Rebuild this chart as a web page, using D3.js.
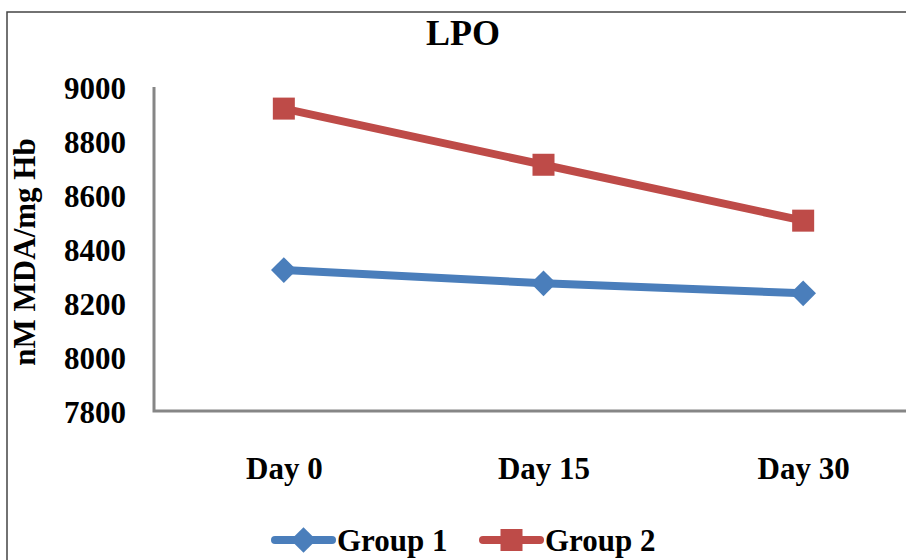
<!DOCTYPE html>
<html>
<head>
<meta charset="utf-8">
<script src="https://cdn.jsdelivr.net/npm/d3@7"></script>
<style>
  html, body { margin: 0; padding: 0; background: #fff; }
  svg { display: block; }
  text { font-family: "Liberation Serif", "Times New Roman", serif; font-weight: bold; fill: #000; }
</style>
</head>
<body>
<svg id="chart" width="906" height="560"></svg>
<script>
// LPO levels per group over the study days
const categories = ["Day 0", "Day 15", "Day 30"];
const group1 = [8322, 8273, 8236];
const group2 = [8920, 8712, 8505];
const seriesNames = ["Group 1", "Group 2"];
const yTicks = [7800, 8000, 8200, 8400, 8600, 8800, 9000];

const colors = { "Group 1": "#4a7ebb", "Group 2": "#be4b48" };
const series = [
  { name: seriesNames[0], values: group1, shape: "diamond" },
  { name: seriesNames[1], values: group2, shape: "square" }
];

const svg = d3.select("#chart");
const fs = 31;

// outer frame (right and bottom edges fall outside the view)
svg.append("rect")
  .attr("x", 7).attr("y", 12).attr("width", 1000).attr("height", 1000)
  .attr("fill", "none").attr("stroke", "#444").attr("stroke-width", 1.5);

const plot = { left: 154, right: 933, top: 87, bottom: 411 };

const x = d3.scalePoint().domain(categories).range([plot.left, plot.right]).padding(0.5);
const y = d3.scaleLinear().domain([7800, 9000]).range([plot.bottom, plot.top]);

// title
svg.append("text").attr("x", 463).attr("y", 45)
  .attr("text-anchor", "middle").attr("font-size", 36).text("LPO");

// y axis
const yAxis = d3.axisLeft(y).tickValues(yTicks).tickSize(0).tickPadding(28).tickFormat(d3.format("d"));
const gy = svg.append("g").attr("transform", `translate(${plot.left},0)`).call(yAxis);
gy.select(".domain").remove();
gy.selectAll("text").attr("font-size", fs).attr("font-family", "Liberation Serif").attr("font-weight", "bold").attr("dy", "0.36em");

// x axis
const xAxis = d3.axisBottom(x).tickSize(0).tickPadding(0);
const gx = svg.append("g").attr("transform", `translate(0,${plot.bottom})`).call(xAxis);
gx.select(".domain").remove();
gx.selectAll("text").attr("font-size", fs).attr("font-family", "Liberation Serif").attr("font-weight", "bold")
  .attr("y", 68).attr("dy", 0);

// axis lines
svg.append("path")
  .attr("d", `M${plot.left},${plot.top}V${plot.bottom}H${plot.right}`)
  .attr("fill", "none").attr("stroke", "#868686").attr("stroke-width", 3);

// y axis title
svg.append("text")
  .attr("transform", `translate(35,252) rotate(-90)`)
  .attr("text-anchor", "middle").attr("font-size", fs).text("nM MDA/mg Hb");

const line = d3.line().x((d, i) => x(categories[i])).y(d => y(d));

function drawMarker(g, shape, cx, cy, color) {
  if (shape === "square") {
    g.append("rect").attr("x", cx - 11).attr("y", cy - 11).attr("width", 22).attr("height", 22)
      .attr("fill", color);
  } else {
    g.append("path").attr("d", d3.symbol().type(d3.symbolSquare).size(330)())
      .attr("transform", `translate(${cx},${cy}) rotate(45)`).attr("fill", color);
  }
}

series.forEach(s => {
  const g = svg.append("g");
  g.append("path").datum(s.values).attr("d", line)
    .attr("fill", "none").attr("stroke", colors[s.name]).attr("stroke-width", 8)
    .attr("stroke-linejoin", "round");
  s.values.forEach((v, i) => drawMarker(g, s.shape, x(categories[i]), y(v), colors[s.name]));
});

// legend
const legendItems = [
  { s: series[0], x0: 275 },
  { s: series[1], x0: 483 }
];
legendItems.forEach(({ s, x0 }) => {
  const g = svg.append("g");
  const ly = 540;
  g.append("line").attr("x1", x0).attr("x2", x0 + 57).attr("y1", ly).attr("y2", ly)
    .attr("stroke", colors[s.name]).attr("stroke-width", 8).attr("stroke-linecap", "round");
  drawMarker(g, s.shape, x0 + 28.5, ly, colors[s.name]);
  g.append("text").attr("x", x0 + 62).attr("y", ly + 11).attr("font-size", fs).text(s.name);
});
</script>
</body>
</html>
